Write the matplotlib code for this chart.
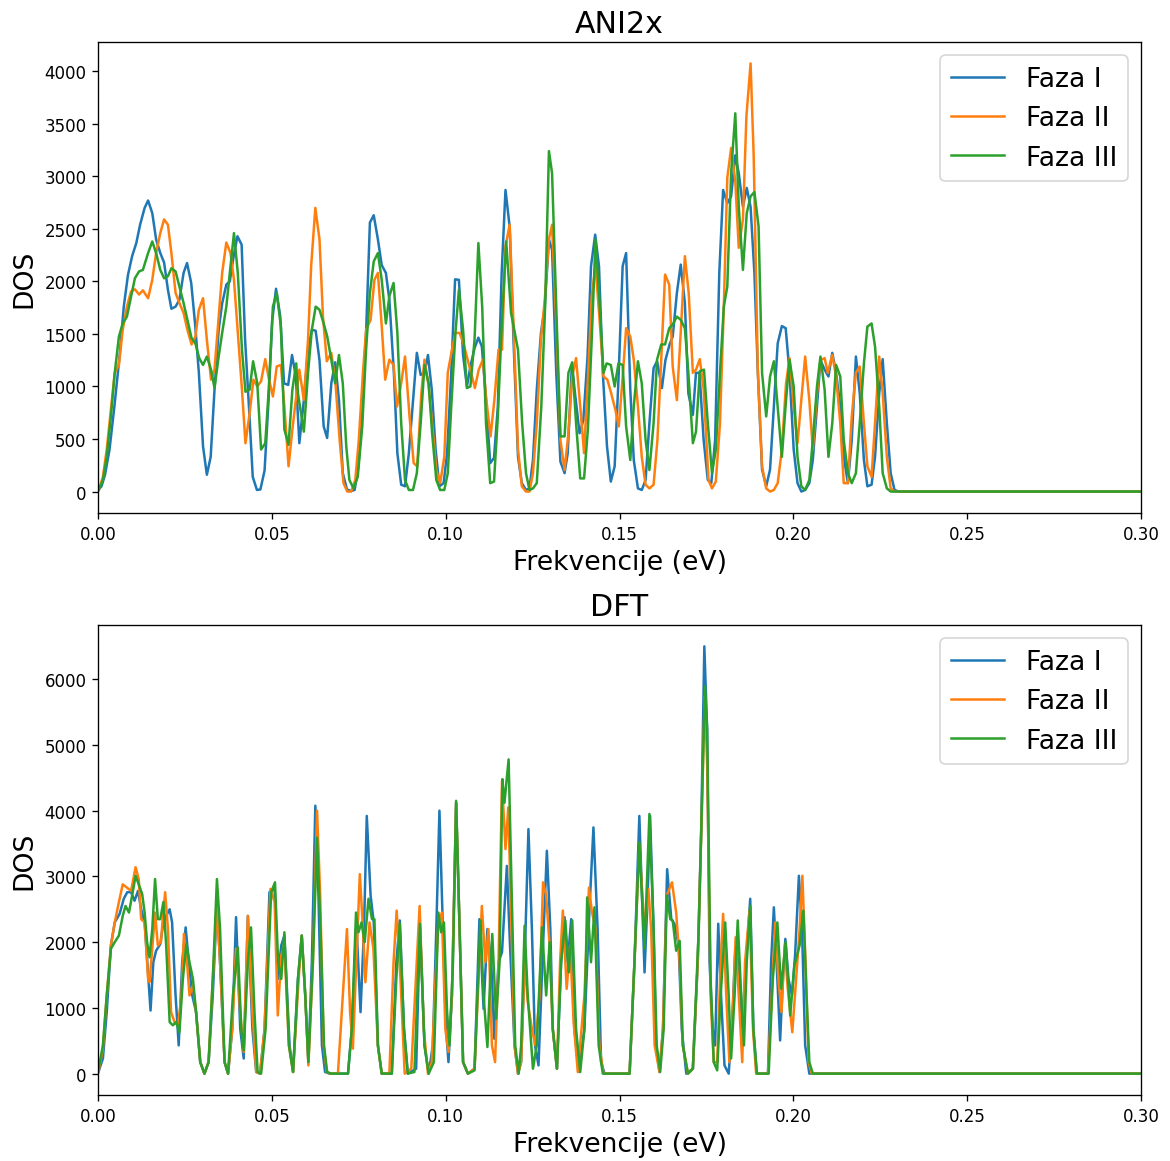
import numpy as np
import matplotlib
matplotlib.use("Agg")
import matplotlib.pyplot as plt

# ---------------- ANI2x (frequency in meV, DOS) ----------------
ani_f1 = [0, 1, 2, 3.3, 4.7, 6.2, 7.4, 8.6, 9.8, 11, 12.1, 13.4, 14.4, 15.6, 16.7, 17.9, 19, 20.1, 21.1, 22.3,
          23.4, 24.6, 25.6, 26.8, 27.9, 29, 30.2, 31.3, 32.4, 33.5, 34.7, 35.7, 36.9, 37.9, 39, 40.1, 41.3, 42.3,
          43.4, 44.5, 45.7, 46.7, 47.9, 49, 50.1, 51.2, 52.4, 53.5, 54.7, 55.8, 56.9, 57.9, 59.2, 60.4, 61.5, 62.6,
          63.7, 64.9, 65.9, 67.1, 68.2, 69.3, 70.4, 71.6, 72.8, 73.8, 74.9, 76, 77.1, 78.2, 79.3, 80.5, 81.6, 82.8,
          83.8, 85.1, 86.1, 87.2, 88.3, 89.4, 90.6, 91.7, 92.8, 93.9, 94.9, 96, 97.1, 98.2, 99.4, 100.4, 101.6,
          102.7, 103.8, 105, 106.1, 107.1, 108.3, 109.4, 110.4, 111.6, 112.8, 113.9, 115, 116.1, 117.2, 118.4,
          119.5, 120.8, 121.9, 123.1, 124.1, 125.1, 126.2, 127.4, 128.5, 129.7, 130.6, 131.8, 133, 134.2, 135.1,
          136.3, 137.3, 138.5, 139.6, 140.8, 141.8, 143, 144.1, 145.2, 146.4, 147.5, 148.6, 149.7, 150.9, 151.9,
          153.1, 154.1, 155.3, 156.4, 157.5, 158.6, 159.8, 160.8, 162.2, 163.2, 164.4, 165.3, 166.5, 167.6, 168.8,
          169.8, 171.1, 172, 173, 174.2, 175.4, 176.4, 177.5, 178.7, 179.8, 181, 182.1, 183.3, 184.3, 185.5, 186.6,
          187.7, 188.8, 189.8, 191, 192.2, 193.3, 194.4, 195.5, 196.7, 197.8, 198.9, 200.1, 201.2, 202.3, 203.4,
          204.6, 205.6, 206.8, 207.8, 209, 210.1, 211.2, 212.3, 213.5, 214.5, 215.7, 216.8, 218, 219.1, 220.3,
          221.3, 222.5, 223.5, 224.7, 225.7, 226.9, 228, 229.1, 230.3, 300]
ani_d1 = [15, 50, 160, 400, 810, 1290, 1760, 2060, 2240, 2365, 2540, 2700, 2770, 2650, 2400, 2270, 2180, 1920, 1740,
          1760, 1825, 2080, 2175, 1985, 1600, 1130, 430, 160, 330, 970, 1540, 1790, 1970, 2000, 2240, 2430, 2350,
          1444, 810, 140, 15, 20, 200, 840, 1630, 1930, 1670, 1030, 1015, 1300, 1095, 460, 870, 1350, 1540, 1530,
          1250, 620, 510, 1030, 1230, 870, 175, 20, 5, 15, 240, 810, 1510, 2560, 2630, 2400, 2155, 2080, 1825, 1130,
          365, 65, 50, 365, 870, 1320, 1110, 1130, 1300, 970, 400, 50, 80, 365, 1130, 2020, 2015, 1300, 1000, 1190,
          1365, 1465, 1380, 870, 270, 320, 810, 2080, 2870, 2520, 1445, 330, 80, 15, 30, 300, 970, 1510, 1760, 2400,
          2300, 1130, 285, 175, 365, 1205, 905, 555, 680, 1285, 2145, 2445, 2145, 1130, 430, 95, 240, 1065, 2145,
          2270, 970, 300, 30, 15, 110, 650, 1175, 1240, 985, 1250, 1400, 1475, 1890, 2160, 1795, 935, 730, 1130,
          1130, 490, 110, 80, 490, 2080, 2870, 2745, 2810, 3200, 3030, 2710, 2890, 2710, 2080, 1130, 210, 50, 210,
          810, 1410, 1575, 1555, 1130, 400, 80, 0, 15, 80, 300, 810, 1250, 1160, 1095, 1320, 1130, 810, 330, 80,
          490, 1285, 935, 300, 50, 65, 330, 935, 1260, 650, 175, 15, 0, 0]

ani_f2 = [0.2, 1.4, 2.5, 3.7, 4.8, 6, 7.1, 8.3, 9.5, 10.6, 11.8, 12.9, 14.4, 15.6, 16.7, 17.9, 19, 20.1, 21.1, 22.3,
          23.4, 24.6, 25.7, 26.9, 28, 29, 30.2, 31.3, 32.5, 33.5, 34.7, 35.7, 36.9, 38.1, 39.1, 40.2, 41.4, 42.4,
          43.6, 44.7, 45.8, 46.9, 48.1, 49.1, 50.3, 51.4, 52.6, 53.6, 54.8, 55.9, 57.9, 59.2, 60.4, 61.3, 62.5,
          63.7, 64.7, 65.8, 67.1, 68.3, 69.5, 70.6, 71.7, 72.8, 74, 75, 76.2, 77.1, 78.4, 79.5, 80.5, 81.6, 82.6,
          83.8, 85, 86, 87.2, 88.3, 89.6, 90.8, 91.8, 93, 93.9, 95.1, 96.1, 97.3, 98.4, 99.6, 100.6, 101.8, 102.8,
          104, 105.1, 106.2, 107.3, 108.4, 109.5, 110.7, 111.7, 112.9, 114, 115.2, 116.2, 117.2, 118.4, 119.5,
          120.8, 121.9, 123.1, 124.1, 125.1, 126.2, 127.4, 128.5, 129.7, 130.6, 131.8, 133, 134.2, 135.3, 136.4,
          137.5, 138.7, 139.8, 140.9, 142, 143.1, 144.2, 145.4, 146.5, 147.6, 148.8, 149.8, 151, 151.9, 153.1,
          154.1, 155.3, 156.4, 157.5, 158.6, 159.8, 160.9, 162, 163.1, 164.3, 165.3, 166.5, 167.6, 168.8, 169.9,
          171.1, 172, 173.1, 174.2, 175.6, 176.6, 177.7, 178.9, 180, 181, 182.1, 183.3, 184.3, 185.5, 186.5, 187.7,
          188.6, 189.8, 191, 192.2, 193.3, 194.4, 195.5, 196.7, 197.9, 198.9, 200.1, 201.2, 202.3, 203.4, 204.6,
          205.6, 206.8, 207.8, 209, 209.9, 211.2, 212.3, 213.5, 214.5, 215.7, 216.8, 218, 219.1, 220.3, 221.3,
          222.5, 223.5, 224.7, 225.7, 226.9, 228, 229.1, 300]
ani_d2 = [15, 140, 400, 780, 1130, 1205, 1540, 1760, 1905, 1925, 1875, 1915, 1840, 2015, 2270, 2460, 2590, 2540,
          2270, 1890, 1795, 1700, 1540, 1400, 1475, 1730, 1840, 1445, 1065, 1160, 1665, 2080, 2370, 2270, 2015, 1510,
          970, 460, 745, 1065, 1000, 1050, 1260, 1080, 905, 1190, 1205, 810, 240, 590, 1160, 870, 1445, 2145, 2700,
          2400, 1665, 1240, 1320, 1030, 490, 80, 0, 0, 110, 490, 1130, 1540, 1635, 2015, 2080, 1575, 1065, 1255,
          1205, 810, 1030, 1285, 715, 270, 240, 935, 1255, 1000, 650, 205, 80, 330, 1130, 1350, 1510, 1510, 1410,
          1270, 1130, 985, 1160, 1255, 870, 525, 870, 1350, 1350, 2335, 2540, 1600, 400, 50, 0, 0, 175, 650, 1445,
          1825, 2400, 2540, 1600, 490, 205, 555, 1095, 1270, 810, 365, 1065, 1860, 2145, 1665, 1095, 1065, 935, 780,
          620, 1130, 1555, 1475, 1255, 810, 330, 65, 30, 65, 490, 1255, 2065, 1970, 1190, 870, 1510, 2240, 1890,
          1130, 1160, 1260, 970, 110, 30, 95, 650, 1760, 2985, 3270, 2955, 2320, 2590, 3570, 4075, 3190, 1130, 240,
          30, 0, 15, 80, 400, 1030, 1270, 810, 460, 870, 1285, 870, 400, 935, 1250, 1270, 1130, 1300, 1095, 650,
          80, 80, 715, 1130, 1190, 650, 240, 140, 650, 1285, 935, 330, 30, 0, 0]

ani_f3 = [0.2, 1.4, 2.5, 3.7, 4.8, 6, 7.1, 8.3, 9.5, 10.6, 11.8, 12.9, 14.4, 15.6, 16.7, 17.9, 19, 20.1, 21.1, 22.3,
          23.4, 24.6, 25.7, 26.9, 28, 29.1, 30.2, 31.3, 32.5, 33.5, 34.7, 35.7, 36.9, 38.1, 39.1, 40.2, 41.4, 42.4,
          43.6, 44.6, 45.8, 46.9, 48.1, 49.1, 50.3, 51.4, 52.6, 53.6, 54.8, 55.9, 57, 57.5, 59.2, 60.4, 61.5, 62.6,
          63.7, 64.9, 65.9, 67.1, 68.2, 69.3, 70.4, 71.4, 72.3, 73.5, 74.7, 76, 77.1, 78.2, 79.3, 80.5, 81.6, 82.8,
          83.8, 85, 86.1, 87.2, 88.3, 89.4, 90.6, 91.7, 92.8, 93.9, 95.1, 96.1, 97.3, 98.4, 99.6, 100.6, 101.6,
          102.8, 103.8, 105, 106.1, 107.1, 108.3, 109.4, 110.5, 111.6, 112.8, 113.9, 115, 116.1, 117.4, 118.8,
          120.8, 122, 123.1, 124.1, 125.1, 126.2, 127.5, 128.6, 129.7, 130.6, 131.8, 133, 134.2, 135.3, 136.4,
          137.5, 138.7, 139.8, 140.9, 142, 143.1, 144.2, 145.4, 146.3, 147.5, 148.6, 149.7, 150.9, 151.9, 153.1,
          154.1, 155.3, 156.4, 157.5, 158.6, 159.8, 160.8, 162, 163.1, 164.3, 165.3, 166.5, 167.6, 168.8, 169.8,
          171.1, 172, 173.1, 174.3, 175.4, 176.6, 177.7, 178.9, 180, 181, 182.1, 183.3, 184.3, 185.5, 186.6, 187.7,
          188.8, 190, 191, 192.2, 193.3, 194.4, 195.5, 196.7, 197.9, 198.9, 200.1, 201.2, 202.3, 203.4, 204.6,
          205.6, 206.8, 207.8, 209, 210.1, 211.2, 212.3, 213.5, 214.5, 215.7, 216.8, 218, 219.1, 220.3, 221.3,
          222.5, 223.5, 224.7, 225.7, 226.9, 228, 300]
ani_d3 = [15, 110, 330, 715, 1130, 1475, 1600, 1665, 1855, 2030, 2095, 2110, 2270, 2380, 2270, 2110, 2030, 2050,
          2125, 2095, 1950, 1795, 1635, 1460, 1410, 1270, 1205, 1285, 1160, 985, 1285, 1510, 1760, 2145, 2460, 2080,
          1350, 950, 970, 1240, 1030, 400, 460, 970, 1760, 1890, 1570, 590, 445, 970, 1220, 935, 570, 1130, 1540,
          1760, 1730, 1600, 1480, 1255, 1030, 1300, 1030, 430, 110, 30, 140, 620, 1350, 1890, 2190, 2270, 2015,
          1600, 1860, 1985, 1510, 650, 110, 15, 15, 175, 650, 1205, 1030, 555, 110, 15, 15, 175, 810, 1510, 1920,
          1540, 985, 1000, 1445, 2365, 1760, 650, 80, 95, 715, 1570, 2380, 1700, 1350, 650, 175, 15, 30, 80, 810,
          1760, 3240, 3030, 1760, 525, 525, 1130, 1230, 650, 125, 125, 590, 1445, 2400, 1825, 1130, 1220, 1205,
          1000, 1220, 1205, 620, 300, 810, 1240, 1030, 490, 205, 650, 1255, 1400, 1400, 1555, 1590, 1665, 1635,
          1555, 1130, 460, 570, 1145, 1160, 650, 175, 400, 1130, 1760, 1950, 3030, 3600, 2710, 2110, 2650, 2810,
          2850, 2525, 1130, 715, 1095, 1240, 810, 330, 870, 1255, 1000, 330, 50, 15, 110, 490, 1000, 1285, 970,
          330, 650, 1205, 1095, 490, 175, 80, 175, 650, 1220, 1570, 1600, 1380, 810, 175, 30, 0, 0]

# ---------------- DFT (frequency in meV, DOS) ----------------
dft_f1 = [0.1, 1.4, 2.5, 3.7, 4.8, 6.2, 7.4, 8.4, 9.5, 10.5, 11.5, 12.4, 13.4, 14.5, 15.1, 15.9, 16.7, 17.9, 18.8,
          19.6, 20.6, 21.3, 22.3, 23.2, 24.2, 25.2, 26.1, 27.1, 28.2, 29.4, 30.6, 31.8, 33, 34.2, 35.1, 36.4, 37.4,
          38.6, 39.7, 40.9, 41.9, 43.1, 44.4, 45.5, 46.6, 47.9, 49.3, 50.8, 51.7, 52.7, 53.6, 55.1, 56.1, 57.5,
          58.6, 59.6, 60.5, 61.5, 62.5, 63.4, 64.4, 65.3, 66.6, 71.9, 73, 74.3, 75.5, 76.5, 77.3, 78.4, 79.3,
          80.5, 81.6, 84.5, 85.8, 86.8, 88, 89.1, 91.5, 92.6, 93.9, 95.1, 96.3, 97.3, 98.2, 99.2, 100.1, 100.8,
          101.8, 103, 104, 105, 106.4, 108.3, 109.7, 110.9, 112, 113.1, 114, 115.2, 116.2, 117.6, 118.5, 119.8,
          120.8, 121.7, 122.7, 123.8, 124.8, 125.7, 126.7, 128, 129.1, 130.1, 130.8, 132, 133.2, 134.2, 135.1,
          136.1, 137, 138.3, 139.9, 141.4, 142.5, 143.7, 144.7, 145.7, 152.9, 154.3, 155.7, 157.2, 158.1, 158.8,
          159.8, 160.5, 161.5, 162.5, 163.7, 164.9, 165.8, 167, 167.9, 169.2, 171.1, 172.5, 173.5, 174.4, 175.2,
          175.9, 176.8, 177.5, 178.4, 179.2, 180.2, 181.4, 182.3, 183.3, 184.2, 185.2, 186.4, 187.6, 188.5, 189.5,
          192.7, 193.6, 194.4, 195.4, 196.2, 197, 197.7, 198.6, 199.6, 200.5, 201.6, 202.5, 203.4, 204.6, 300]
dft_d1 = [25, 230, 935, 1950, 2300, 2430, 2660, 2760, 2760, 2630, 2780, 2500, 2300, 1440, 960, 1695, 1870, 1970,
          2300, 2400, 2500, 2300, 1190, 430, 1695, 2225, 1695, 1190, 935, 175, 0, 175, 1190, 2580, 1695, 175, 0,
          680, 2380, 680, 230, 2400, 680, 25, 0, 680, 2760, 2810, 1440, 1950, 2100, 430, 25, 1440, 2100, 1190,
          175, 1695, 4075, 2710, 430, 25, 0, 0, 680, 2300, 935, 2200, 3920, 2710, 2300, 430, 0, 0, 1695, 2330,
          680, 0, 75, 2250, 430, 0, 430, 2200, 4000, 2200, 680, 175, 1190, 4120, 2200, 175, 0, 75, 2350, 985,
          2200, 1695, 530, 1695, 1850, 3160, 1950, 430, 0, 175, 1695, 3720, 2200, 430, 125, 1950, 3390, 2200, 680,
          75, 1695, 2380, 1695, 2350, 680, 25, 680, 2550, 3745, 2200, 175, 0, 0, 1695, 3920, 1540, 2710, 3920,
          2200, 430, 25, 680, 3110, 2350, 2280, 1950, 680, 0, 75, 1695, 3720, 6500, 5240, 1695, 680, 430, 2280,
          1190, 125, 0, 680, 1900, 1695, 680, 1695, 2660, 680, 0, 0, 1695, 2530, 1440, 505, 1440, 2050, 1440,
          1190, 1800, 3010, 2200, 430, 0, 0]

dft_f2 = [0.1, 1.4, 2.5, 3.7, 4.8, 6, 7.1, 8.3, 9.5, 10.8, 11.7, 12.4, 13.4, 14.4, 14.8, 15.6, 16.4, 17.2, 18.1,
          18.6, 19.3, 20.1, 21, 22, 23, 24, 24.7, 25.6, 26.3, 27.3, 28.2, 29.4, 30.6, 31.8, 33, 34.2, 35.1, 36.4,
          37.4, 38.6, 39.7, 40.9, 41.9, 43.1, 44.4, 45.5, 46.6, 47.9, 49.6, 50.8, 51.7, 52.7, 53.6, 54.9, 56.1,
          57.7, 58.6, 59.6, 60.5, 61.8, 63, 63.9, 64.9, 65.8, 66.8, 69, 70.4, 71.6, 72.5, 73.3, 74.3, 75.3, 76.2,
          76.9, 78.1, 79.2, 80.5, 81.6, 83.8, 85, 85.9, 87, 88.2, 90.1, 92.5, 93.7, 94.9, 96, 97.3, 97.9, 98.9,
          99.9, 100.8, 101.8, 103, 104, 105, 106.4, 108.3, 110.4, 111.4, 112.3, 113.3, 114.2, 115.2, 116.2, 117.2,
          118, 118.8, 119.8, 120.8, 121.7, 122.7, 123.6, 124.8, 125.8, 127, 128, 128.9, 129.9, 130.8, 132, 132.9,
          133.7, 134.8, 135.8, 136.8, 138, 139.9, 141.2, 142.1, 143.1, 144.2, 145.4, 152.9, 154.3, 155.7, 157.2,
          158.3, 159.1, 160.1, 161.5, 162.5, 163.6, 165.1, 166.3, 167.3, 168.2, 169.7, 171.1, 172.5, 173.8, 174.5,
          175.2, 176.2, 177.1, 178.1, 179.1, 179.8, 180.7, 181.6, 182.6, 183.4, 184.3, 185.3, 186.1, 187.4, 188.4,
          189.3, 192.7, 193.8, 194.8, 195.7, 196.6, 197.5, 198.4, 199.7, 200.8, 201.8, 202.6, 203.5, 204.4, 205.3,
          300]
dft_d2 = [25, 380, 1190, 1950, 2300, 2610, 2880, 2830, 2780, 3140, 2960, 2350, 2300, 1440, 1390, 1900, 2450, 1950,
          2000, 2350, 2760, 2200, 935, 785, 735, 1190, 2125, 1695, 1190, 1340, 935, 175, 0, 175, 1440, 2530, 1695,
          175, 0, 680, 1900, 935, 330, 2400, 935, 25, 0, 680, 2810, 2610, 885, 1800, 1950, 430, 25, 1440, 2100,
          1190, 125, 1695, 4000, 2710, 430, 25, 0, 0, 1190, 2200, 935, 380, 1695, 3035, 2200, 1390, 2300, 1900,
          430, 0, 0, 1695, 2480, 1440, 0, 75, 2550, 680, 0, 175, 1695, 2300, 2450, 680, 330, 1190, 4120, 2200, 175,
          0, 75, 2550, 1695, 2200, 430, 175, 1695, 4450, 3415, 4050, 2450, 430, 0, 175, 1695, 1090, 680, 430, 1190,
          2910, 2710, 1950, 680, 75, 1695, 2480, 1290, 1950, 785, 25, 1190, 2830, 2450, 2200, 430, 0, 0, 1695, 3470,
          2200, 2810, 2200, 430, 25, 680, 2710, 2910, 2450, 1695, 430, 0, 75, 1695, 4220, 5740, 4730, 1190, 175,
          175, 1695, 2430, 1190, 175, 935, 2075, 1190, 175, 1695, 2480, 680, 0, 0, 1190, 2300, 1440, 935, 1950,
          1290, 630, 1440, 2200, 3010, 1695, 175, 0, 0]

dft_f3 = [0.1, 1.4, 2.5, 3.7, 4.8, 6, 7.1, 7.9, 8.9, 9.8, 10.8, 11.7, 12.7, 13.4, 14.1, 14.8, 15.6, 16.4, 17.2,
          17.9, 18.8, 19.6, 20.6, 21.5, 22.5, 23.4, 24.4, 25.4, 26.3, 27.3, 28.2, 29.4, 30.6, 31.8, 33, 34.2, 35.1,
          36.4, 37.4, 38.8, 40.2, 41.2, 41.9, 43.1, 44, 45, 45.9, 46.9, 48.2, 49.8, 50.9, 51.8, 52.7, 53.6, 54.9,
          56.1, 57.5, 58.6, 59.6, 60.5, 61.8, 63, 64, 65, 65.9, 67, 71.9, 73, 74.2, 74.9, 75.8, 76.7, 77.8, 78.8,
          79.5, 80.5, 81.6, 84.5, 85.8, 86.8, 88, 89.1, 91, 92.6, 93.9, 95.1, 96.6, 97.9, 98.7, 99.5, 100.4, 101.1,
          102.1, 103, 104, 105, 106.4, 108.3, 110, 110.9, 112, 112.6, 113.4, 114.5, 115.5, 116.3, 116.9, 118.1,
          119, 120, 121, 121.7, 122.7, 123.6, 125.1, 126.2, 127.7, 128.9, 129.9, 130.8, 132, 133.2, 134.4, 135.4,
          136.4, 137.5, 138.7, 139.9, 140.7, 141.8, 142.8, 144, 145.2, 152.9, 154.3, 155.7, 157.2, 158.6, 159.8,
          160.7, 161.7, 162.7, 163.6, 164.6, 165.3, 166.3, 167.3, 168.2, 169.7, 171.1, 172.8, 174, 174.6, 175.2,
          176.2, 177.1, 178.1, 179.1, 180.4, 181.4, 182.1, 183.1, 184, 185, 185.8, 186.6, 187.6, 188.5, 189.5,
          192.9, 194.1, 195.4, 196.5, 197.8, 199.1, 200.3, 201.8, 202.9, 203.8, 204.6, 205.6, 300]
dft_d3 = [50, 430, 1190, 1900, 2000, 2100, 2400, 2550, 2450, 2710, 3010, 2880, 2730, 2450, 2000, 1770, 2200, 2960,
          2350, 2350, 2610, 1950, 785, 735, 785, 630, 1440, 1970, 1695, 1440, 935, 175, 0, 175, 1440, 2960, 2200,
          175, 0, 1190, 1920, 680, 355, 1695, 2225, 935, 25, 0, 680, 2760, 2910, 1695, 1440, 2150, 430, 25, 1440,
          2100, 1190, 175, 1695, 3590, 2200, 430, 25, 0, 0, 680, 2450, 2150, 2300, 2000, 2660, 2350, 2350, 430, 0,
          0, 1440, 2280, 680, 0, 25, 2280, 430, 0, 175, 2450, 2150, 2300, 935, 430, 1695, 4150, 2200, 175, 0, 50,
          2330, 1190, 405, 1190, 2125, 835, 1695, 4480, 4120, 4780, 2710, 430, 0, 430, 2250, 1190, 75, 430, 2225,
          1190, 2000, 680, 75, 1695, 2330, 1540, 2330, 680, 25, 680, 2680, 1695, 2530, 430, 0, 0, 1695, 3520,
          1900, 3950, 2200, 430, 25, 680, 2710, 2350, 2330, 1870, 2020, 430, 0, 75, 2200, 4730, 5890, 5240, 1440,
          175, 50, 1190, 2300, 1190, 230, 1190, 2330, 1190, 430, 1695, 2550, 680, 0, 0, 1440, 2300, 1290, 2000,
          885, 1645, 1950, 2480, 1190, 175, 0, 0]

labels = ["Faza I", "Faza II", "Faza III"]
titles = ["ANI2x", "DFT"]

fig = plt.figure(figsize=(9.75, 9.6833), dpi=120)
ax1 = fig.add_axes([0.0838, 0.5577, 0.8914, 0.4053])
ax2 = fig.add_axes([0.0838, 0.0568, 0.8914, 0.4045])

datasets = [
    (ax1, [(ani_f1, ani_d1), (ani_f2, ani_d2), (ani_f3, ani_d3)], titles[0]),
    (ax2, [(dft_f1, dft_d1), (dft_f2, dft_d2), (dft_f3, dft_d3)], titles[1]),
]

for ax, series, title in datasets:
    for (f, d), lab in zip(series, labels):
        ax.plot(np.array(f) / 1000.0, d, label=lab, linewidth=1.5)
    ax.set_xlim(0, 0.3)
    ax.set_title(title, fontsize=18)
    ax.set_xlabel("Frekvencije (eV)", fontsize=16)
    ax.set_ylabel("DOS", fontsize=16)
    ax.tick_params(labelsize=10)
    ax.legend(loc="upper right", fontsize=16)

fig.savefig("out.png", dpi=120)
